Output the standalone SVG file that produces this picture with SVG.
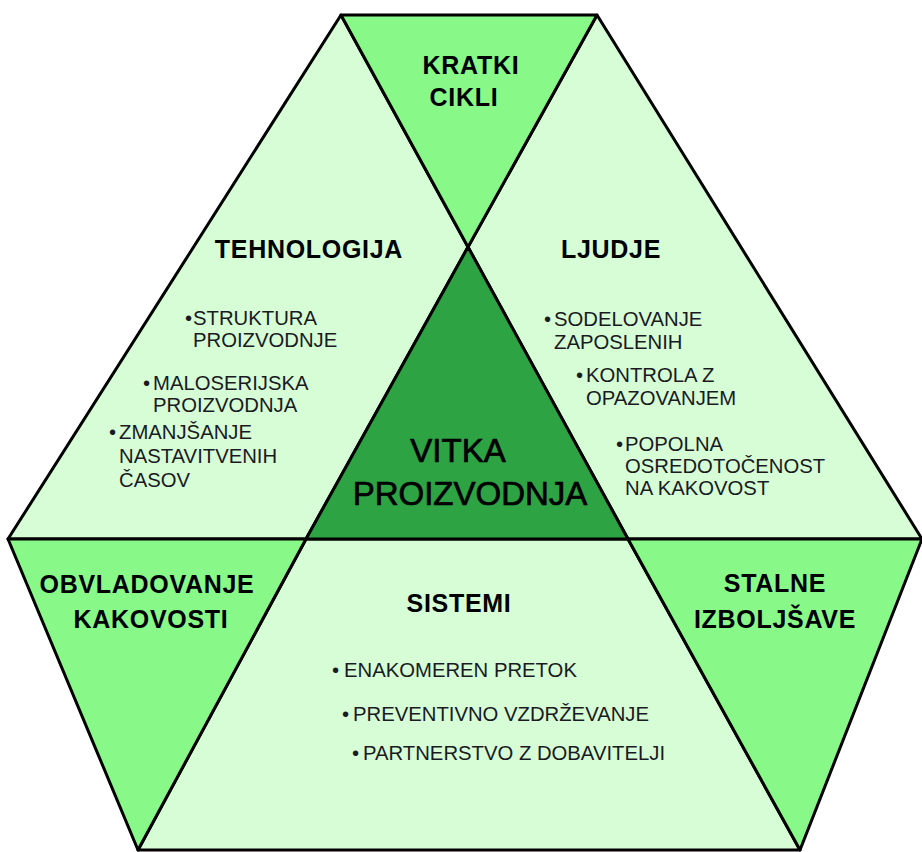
<svg xmlns="http://www.w3.org/2000/svg" width="922" height="852" viewBox="0 0 922 852">
<defs>
<style>
.light{fill:#d6fdd6;stroke:#000;stroke-width:3;stroke-linejoin:round}
.mid{fill:#88f988;stroke:#000;stroke-width:3;stroke-linejoin:round}
.dark{fill:#2da343;stroke:#000;stroke-width:3;stroke-linejoin:round}
.title{font-family:"Liberation Sans",Arial,sans-serif;font-weight:bold;font-size:25px;letter-spacing:0.7px;fill:#000;text-anchor:middle}
.center{font-family:"Liberation Sans",Arial,sans-serif;font-size:33px;fill:#000;stroke:#000;stroke-width:0.7;text-anchor:middle}
.item{font-family:"Liberation Sans",Arial,sans-serif;font-size:20.3px;fill:#1a1a22}
</style>
</defs>
<rect width="922" height="852" fill="#fff"/>
<g id="tehnologija">
<polygon class="light" points="341,15 468,247 306,539 8,539"/>
<text class="title" x="309" y="258">TEHNOLOGIJA</text>
<text class="item" y="325"><tspan x="185">•</tspan><tspan x="193">STRUKTURA</tspan></text>
<text class="item" x="193" y="347">PROIZVODNJE</text>
<text class="item" y="390"><tspan x="143">•</tspan><tspan x="153">MALOSERIJSKA</tspan></text>
<text class="item" x="153" y="412">PROIZVODNJA</text>
<text class="item" y="439"><tspan x="109">•</tspan><tspan x="119">ZMANJŠANJE</tspan></text>
<text class="item" x="119" y="463">NASTAVITVENIH</text>
<text class="item" x="119" y="487">ČASOV</text>
</g>
<g id="ljudje">
<polygon class="light" points="597,15 922,539 628,539 468,247"/>
<text class="title" x="611" y="258">LJUDJE</text>
<text class="item" y="326"><tspan x="544">•</tspan><tspan x="554">SODELOVANJE</tspan></text>
<text class="item" x="554" y="349">ZAPOSLENIH</text>
<text class="item" y="382"><tspan x="576">•</tspan><tspan x="586">KONTROLA Z</tspan></text>
<text class="item" x="586" y="405">OPAZOVANJEM</text>
<text class="item" y="451"><tspan x="616">•</tspan><tspan x="625">POPOLNA</tspan></text>
<text class="item" x="625" y="473">OSREDOTOČENOST</text>
<text class="item" x="625" y="495">NA KAKOVOST</text>
</g>
<g id="sistemi">
<polygon class="light" points="306,539 628,539 800,850 138,850"/>
<text class="title" x="459" y="612">SISTEMI</text>
<text class="item" y="677"><tspan x="332">•</tspan><tspan x="344">ENAKOMEREN PRETOK</tspan></text>
<text class="item" y="721"><tspan x="342">•</tspan><tspan x="353">PREVENTIVNO VZDRŽEVANJE</tspan></text>
<text class="item" y="760"><tspan x="352">•</tspan><tspan x="363">PARTNERSTVO Z DOBAVITELJI</tspan></text>
</g>
<g id="kratki-cikli">
<polygon class="mid" points="341,15 597,15 468,247"/>
<text class="title" x="471" y="74">KRATKI</text>
<text class="title" x="464" y="106">CIKLI</text>
</g>
<g id="obvladovanje-kakovosti">
<polygon class="mid" points="8,539 306,539 138,850"/>
<text class="title" x="147" y="593">OBVLADOVANJE</text>
<text class="title" x="151" y="628">KAKOVOSTI</text>
</g>
<g id="stalne-izboljsave">
<polygon class="mid" points="628,539 922,539 800,850"/>
<text class="title" x="775" y="592">STALNE</text>
<text class="title" x="775" y="628">IZBOLJŠAVE</text>
</g>
<g id="vitka-proizvodnja">
<polygon class="dark" points="468,247 628,539 306,539"/>
<text class="center" x="458" y="462">VITKA</text>
<text class="center" x="470" y="505">PROIZVODNJA</text>
</g>
<g id="connectors"/>
</svg>
